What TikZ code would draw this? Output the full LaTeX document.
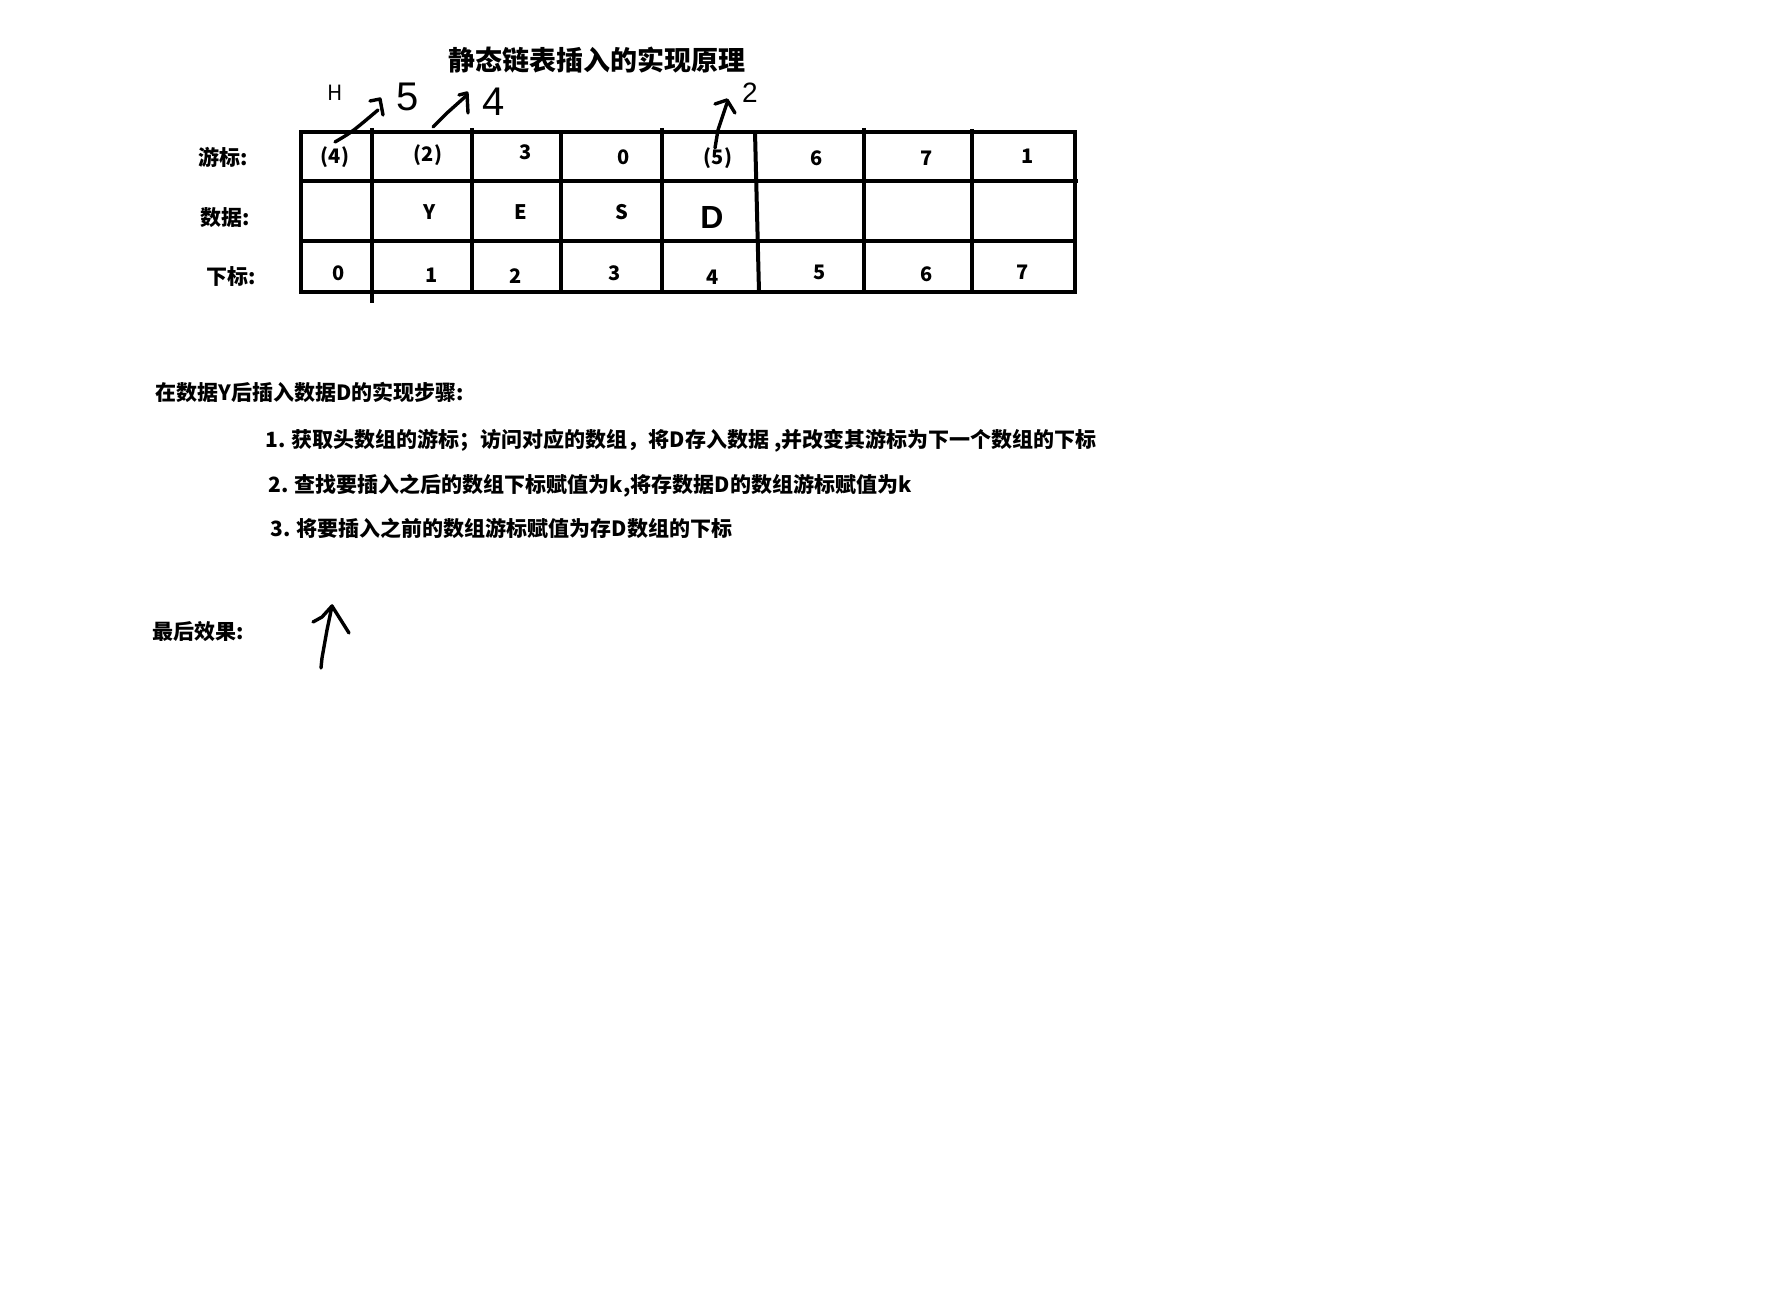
\documentclass[tikz,border=0pt]{standalone}
\usepackage{fontspec}
\setmainfont{Noto Sans CJK SC}
\newfontfamily\handfont{Liberation Sans}
\usetikzlibrary{positioning}

\begin{document}
\begin{tikzpicture}[
        x=0.5pt, y=-0.5pt,
        grid line/.style={line width=2pt},
        hand line/.style={line width=1.7pt, line cap=round, line join=round},
        every node/.style={color=black, inner sep=0pt},
        cell/.style={font=\fontsize{10}{12}\selectfont\bfseries},
        row label/.style={font=\fontsize{10.5}{12}\selectfont\bfseries},
        step text/.style={anchor=west, font=\fontsize{10.5}{12}\selectfont\bfseries},
        hand text/.style={font=\handfont}
    ]
    \useasboundingbox[fill=white] (0,0) rectangle (1788,1304);

    \node[font=\fontsize{13.5}{16}\selectfont\bfseries] (title) at (597,60) {静态链表插入的实现原理};

    \node[row label] (lcur) at (223,157) {游标:};
    \node[row label] (ldata) at (225,218) {数据:};
    \node[row label] (lidx) at (231,277) {下标:};

    \draw[grid line] (301,132) rectangle (1075,292);
    \draw[grid line] (301,181) -- (1078,181);
    \draw[grid line] (301,241) -- (1075,241);
    \foreach \x/\a/\b in {372/128/303, 472/128/292, 561/132/292, 662/128/292, 864/128/292, 972/129/292}
        \draw[grid line] (\x,\a) -- (\x,\b);
    \draw[grid line] (755,132) -- (759,292);

    \foreach \n/\x/\y/\t in {0/335/157/(4), 1/428/155/(2), 2/526/152/3, 3/624/157/0,
                             4/718/158/(5), 5/817/158/6, 6/927/158/7, 7/1028/156/1}
        \node[cell] (cur\n) at (\x,\y) {\t};
    \foreach \n/\x/\t in {1/430/Y, 2/521/E, 3/622/S}
        \node[cell] (dat\n) at (\x,212) {\t};
    \node[hand text, font=\handfont\bfseries\fontsize{16}{20}\selectfont] (dat4) at (712,217) {D};
    \foreach \n/\x/\y in {0/339/273, 1/432/275, 2/516/276, 3/615/273,
                          4/713/277, 5/820/272, 6/927/274, 7/1023/272}
        \node[cell] (idx\n) at (\x,\y) {\n};

    \node[font=\fontsize{10.5}{12}\selectfont] (head) at (335,93) {H};
    \node[hand text, font=\handfont\fontsize{20}{24}\selectfont] (nfive) at (408,97) {5};
    \node[hand text, font=\handfont\fontsize{20}{24}\selectfont] (nfour) at (494,102) {4};
    \node[hand text, font=\handfont\fontsize{14}{17}\selectfont] (ntwo) at (750,93) {2};

    \coordinate (a1) at (335,142);
    \coordinate (a1tip) at (378,110);
    \draw[hand line] (a1) .. controls (352,132) .. (a1tip);
    \draw[hand line] (370,101) -- (380,99) -- (383,115);
    \coordinate (a2) at (433,127);
    \coordinate (a2tip) at (466,96);
    \draw[hand line] (a2) -- (447,113) -- (a2tip);
    \draw[hand line] (459,95) -- (467,93) -- (468,113);
    \coordinate (a3) at (715,148);
    \coordinate (a3tip) at (727,103);
    \draw[hand line] (a3) -- (718,130) -- (a3tip);
    \draw[hand line] (715,104) -- (727,100) -- (735,113);

    \node[step text] (steps) at (155,392) {在数据Y后插入数据D的实现步骤:};
    \node[step text] (s1) at (265,441) {1. 获取头数组的游标；访问对应的数组，将D存入数据 ,并改变其游标为下一个数组的下标};
    \node[step text] (s2) at (268,486) {2. 查找要插入之后的数组下标赋值为k,将存数据D的数组游标赋值为k};
    \node[step text] (s3) at (270,528) {3. 将要插入之前的数组游标赋值为存D数组的下标};

    \node[step text] (final) at (152,632) {最后效果:};
    \coordinate (a4) at (321,668);
    \coordinate (a4tip) at (332,606);
    \draw[hand line] (a4) -- (322,658) -- (327,630) -- (a4tip);
    \draw[hand line] (313,622) -- (322,617) -- (a4tip) -- (349,633);
\end{tikzpicture}
\end{document}
